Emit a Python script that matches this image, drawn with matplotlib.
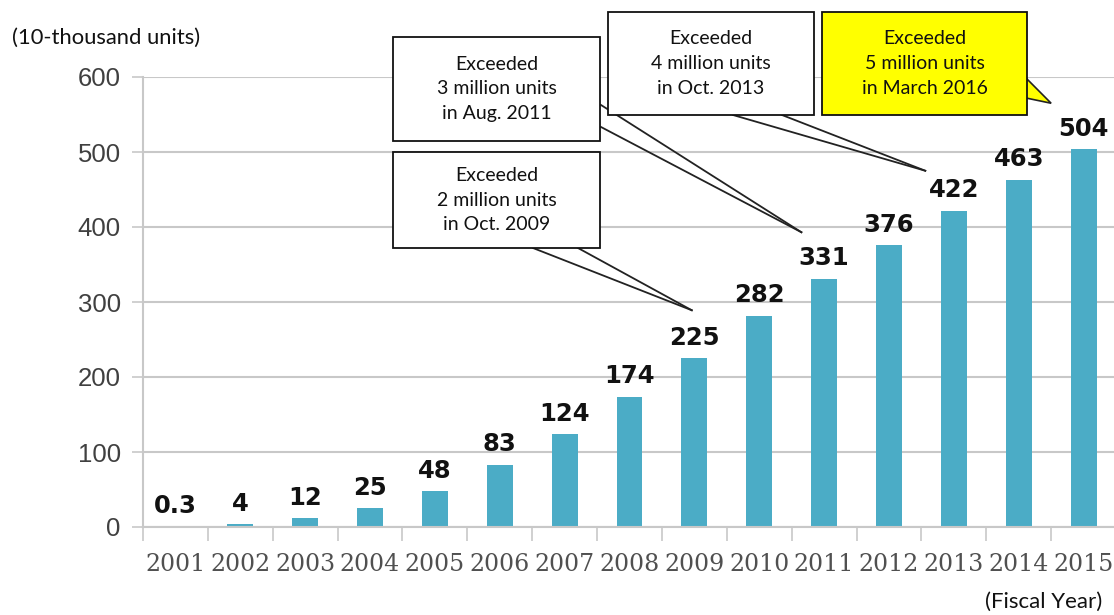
import matplotlib
matplotlib.use("Agg")
import matplotlib.pyplot as plt
from matplotlib.patches import Polygon, Rectangle
from matplotlib.lines import Line2D

# cumulative units sold, in 10-thousand units, by fiscal year
years = ["2001", "2002", "2003", "2004", "2005", "2006", "2007", "2008",
         "2009", "2010", "2011", "2012", "2013", "2014", "2015"]
units = [0.3, 4, 12, 25, 48, 83, 124, 174, 225, 282, 331, 376, 422, 463, 504]

# milestone callouts: the fiscal year they point at and their text
milestone_years = ["2009", "2011", "2013", "2015"]
milestone_texts = [
    "Exceeded\n2 million units\nin Oct. 2009",
    "Exceeded\n3 million units\nin Aug. 2011",
    "Exceeded\n4 million units\nin Oct. 2013",
    "Exceeded\n5 million units\nin March 2016",
]

W, H = 1114, 615
BAR_COLOR = "#4bacc6"
GRID_COLOR = "#c8c8c8"
BOX_FONT = ["Lato", "DejaVu Sans"]


def fx(px):
    return px / W


def fy(py):
    return 1 - py / H


fig = plt.figure(figsize=(W / 100, H / 100), dpi=100)
ax = fig.add_axes([fx(143), fy(527), fx(1116 - 143), (527 - 77) / H])

xs = list(range(len(years)))
ax.bar(xs, units, width=0.4, color=BAR_COLOR, zorder=2)
ax.set_xlim(-0.5, len(years) - 0.5)
ax.set_ylim(0, 600)

for x, v in zip(xs, units):
    ax.annotate(f"{v:g}", (x, v), xytext=(0, 6), textcoords="offset points",
                ha="center", va="bottom", fontsize=17.5, fontweight="bold",
                color="#111111", family="DejaVu Sans", zorder=3)

# y axis: gray gridlines and labels
ax.set_yticks(range(0, 601, 100))
ax.yaxis.grid(True, color=GRID_COLOR, linewidth=1.5, zorder=0)
ax.tick_params(axis="y", length=8, width=1.2, color=GRID_COLOR, pad=8,
               labelsize=18.5, labelcolor="#404040")
for lab in ax.get_yticklabels():
    lab.set_family("Liberation Sans")

# x axis: tick marks between categories, labels under the bars
ax.set_xticks([x - 0.5 for x in xs] + [len(years) - 0.5])
ax.set_xticklabels([])
ax.set_xticks(xs, minor=True)
ax.set_xticklabels(years, minor=True, family="DejaVu Serif", fontsize=17,
                   color="#505050")
ax.tick_params(axis="x", which="major", length=10, width=1.2, color=GRID_COLOR,
               direction="out")
ax.tick_params(axis="x", which="minor", length=0, pad=19)

for side in ["top", "right"]:
    ax.spines[side].set_visible(False)
for side in ["left", "bottom"]:
    ax.spines[side].set_color(GRID_COLOR)
    ax.spines[side].set_linewidth(1.5)
ax.set_axisbelow(True)

fig.text(fx(12), fy(38), "(10-thousand units)", family=BOX_FONT, fontsize=15.8,
         ha="left", va="center", color="#111111")
fig.text(fx(1102), fy(602), "(Fiscal Year)", family=BOX_FONT, fontsize=16,
         ha="right", va="center", color="#111111")

# callout boxes in pixels (left, top, right, bottom), wedge base points,
# and tip offset from the top of the bar in data units
callouts = [
    ((393, 152, 600, 248), [(533, 248), (578, 248)], (-0.04, 64), "white"),
    ((393, 37, 600, 141), [(601, 105), (601, 127)], (-0.35, 62), "white"),
    ((608, 12, 814, 115), [(733, 115), (782, 115)], (-0.44, 53), "white"),
    ((822, 12, 1027, 115), [(1026, 78), (1026, 98)], (-0.5, 61), "#ffff00"),
]

to_fig = fig.transFigure.inverted()
for (box, base, (dx, dy), face), year, text in zip(callouts, milestone_years,
                                                    milestone_texts):
    i = years.index(year)
    tip = to_fig.transform(ax.transData.transform((i + dx, units[i] + dy)))
    p0 = (fx(base[0][0]), fy(base[0][1]))
    p1 = (fx(base[1][0]), fy(base[1][1]))
    if face == "white":
        for p in (p0, p1):
            fig.add_artist(Line2D([p[0], tip[0]], [p[1], tip[1]],
                                  color="#222222", linewidth=1.3, zorder=5))
    else:
        fig.add_artist(Polygon([p0, tip, p1], closed=True, facecolor=face,
                               edgecolor="#222222", linewidth=1.2, zorder=5))
    left, top, right, bottom = box
    fig.add_artist(Rectangle((fx(left), fy(bottom)), fx(right - left),
                             (bottom - top) / H, facecolor=face,
                             edgecolor="#111111", linewidth=1.3, zorder=6))
    fig.text(fx((left + right) / 2), fy((top + bottom) / 2), text,
             family=BOX_FONT, fontsize=14, ha="center", va="center",
             linespacing=1.55, color="#111111", zorder=7)

fig.savefig("out.png", dpi=100)
